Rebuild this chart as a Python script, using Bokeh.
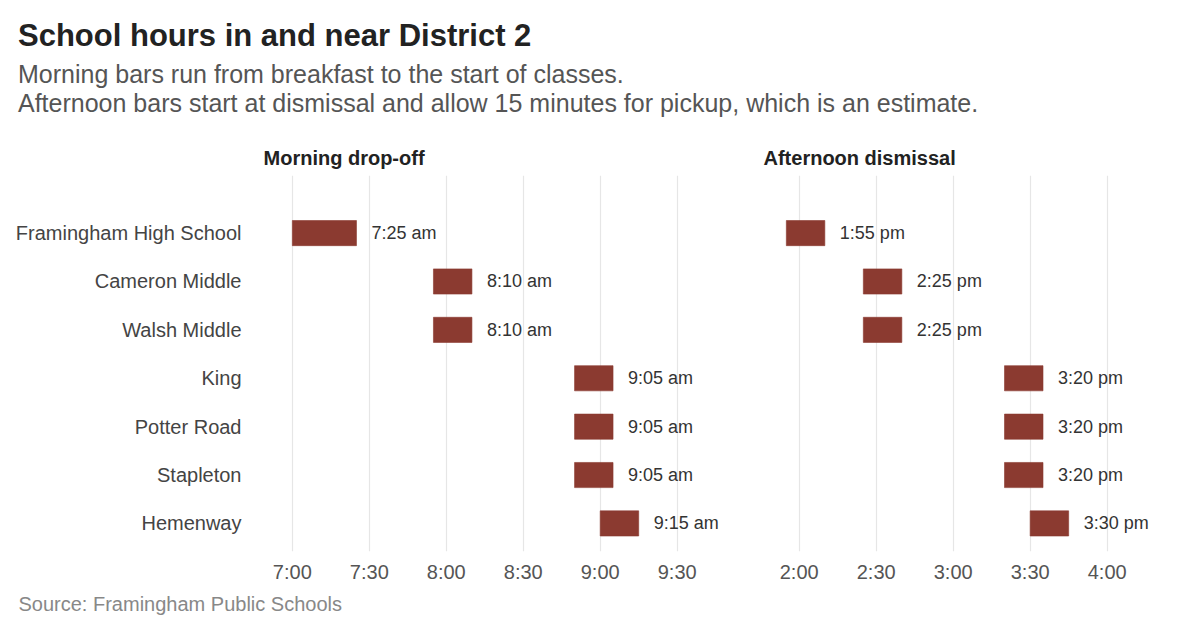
from bokeh.plotting import figure
from bokeh.models import Range1d, FixedTicker, Title, Div, ColumnDataSource
from bokeh.layouts import column, row
from bokeh.core.properties import value
from bokeh.embed import file_html
from bokeh.resources import INLINE

schools = ["Framingham High School", "Cameron Middle", "Walsh Middle", "King",
           "Potter Road", "Stapleton", "Hemenway"]
breakfast = ["7:00", "7:55", "7:55", "8:50", "8:50", "8:50", "9:00"]
classes_start = ["7:25", "8:10", "8:10", "9:05", "9:05", "9:05", "9:15"]
dismissal = ["1:55", "2:25", "2:25", "3:20", "3:20", "3:20", "3:30"]
pickup_minutes = 15
morning_ticks = ["7:00", "7:30", "8:00", "8:30", "9:00", "9:30"]
afternoon_ticks = ["2:00", "2:30", "3:00", "3:30", "4:00"]

FONT = "Liberation Sans"
BAR = "#8b3a30"


def to_min(s):
    h, m = s.split(":")
    return int(h) * 60 + int(m)


rows = list(range(len(schools)))

morning = ColumnDataSource(dict(
    y=rows,
    start=[to_min(t) for t in breakfast],
    end=[to_min(t) for t in classes_start],
    label=[t + " am" for t in classes_start],
))
afternoon = ColumnDataSource(dict(
    y=rows,
    start=[to_min(t) for t in dismissal],
    end=[to_min(t) + pickup_minutes for t in dismissal],
    label=[t + " pm" for t in dismissal],
))


def panel(src, ticks, x0, x1, fw, left, right, name, name_offset):
    p = figure(frame_width=fw, frame_height=376,
               min_border_left=left, min_border_right=right,
               min_border_top=45, min_border_bottom=71,
               x_range=Range1d(x0, x1), y_range=Range1d(6.58, -1.19),
               output_backend="svg", toolbar_location=None)
    p.outline_line_color = None
    p.ygrid.grid_line_color = None
    p.xgrid.grid_line_color = "#e6e6e6"
    p.xgrid.grid_line_width = 1.2
    p.hbar(y="y", left="start", right="end", height=0.52, source=src,
           fill_color=BAR, line_color=BAR, line_alpha=0.6)
    p.text(x="end", y="y", text="label", source=src, x_offset=15,
           text_baseline="middle", text_font=value(FONT),
           text_font_size="18px", text_color="#333333")
    tv = [to_min(t) for t in ticks]
    p.xaxis.ticker = FixedTicker(ticks=tv)
    p.xaxis.major_label_overrides = {v: t for v, t in zip(tv, ticks)}
    p.xaxis.axis_line_color = None
    p.xaxis.major_tick_line_color = None
    p.xaxis.minor_tick_line_color = None
    p.xaxis.major_label_standoff = 3
    p.xaxis.major_label_text_font = FONT
    p.xaxis.major_label_text_font_size = "20px"
    p.xaxis.major_label_text_color = "#555555"
    p.title.text = name
    p.title.align = "left"
    p.title.offset = name_offset
    p.title.standoff = 14
    p.title.text_font = FONT
    p.title.text_font_size = "20px"
    p.title.text_font_style = "bold"
    p.title.text_color = "#222222"
    return p


pm = panel(morning, morning_ticks, to_min("6:55"), to_min("9:50"), 449,
           279, 0, "Morning drop-off", -16)
pm.yaxis.ticker = FixedTicker(ticks=rows)
pm.yaxis.major_label_overrides = {i: s for i, s in zip(rows, schools)}
pm.yaxis.axis_line_color = None
pm.yaxis.major_tick_line_color = None
pm.yaxis.minor_tick_line_color = None
pm.yaxis.major_label_standoff = 32
pm.yaxis.major_label_text_font = FONT
pm.yaxis.major_label_text_font_size = "20px"
pm.yaxis.major_label_text_color = "#444444"
pm.add_layout(Title(text="Source: Framingham Public Schools", align="left",
                    offset=-261, text_font=FONT, text_font_size="20px",
                    text_font_style="normal", text_color="#888888"), "below")

pa = panel(afternoon, afternoon_ticks, to_min("1:50"), to_min("4:20"), 385,
           45, 34, "Afternoon dismissal", -10)
pa.yaxis.visible = False

header = Div(width=1192, height=130, margin=(0, 0, 0, 0), text=(
    '<div style="font-family:\'Liberation Sans\';padding-left:18px;">'
    '<div style="font-size:31px;line-height:31px;font-weight:bold;color:#222;'
    'margin-top:20px;">School hours in and near District 2</div>'
    '<div style="font-size:25px;line-height:28.5px;color:#555;margin-top:9px;">'
    'Morning bars run from breakfast to the start of classes.<br>'
    'Afternoon bars start at dismissal and allow 15 minutes for pickup, '
    'which is an estimate.</div></div>'))

p = column(header, row(pm, pa))

open("out.html", "w").write(file_html(p, INLINE))
